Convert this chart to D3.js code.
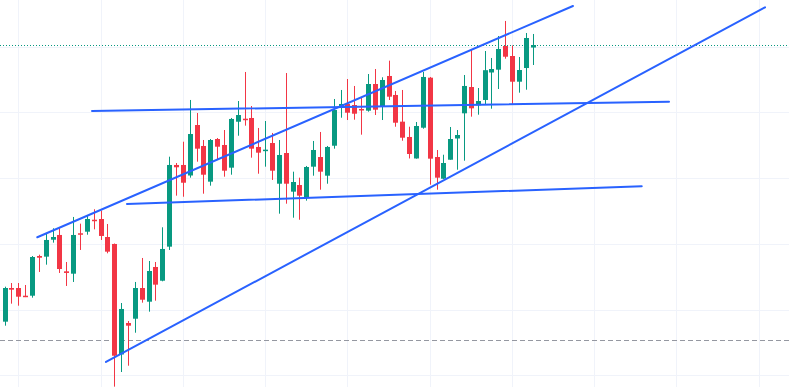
<!DOCTYPE html>
<html>
<head>
<meta charset="utf-8">
<script src="https://cdn.jsdelivr.net/npm/d3@7"></script>
<style>
  html, body { margin: 0; padding: 0; background: #fff; }
  svg { display: block; }
</style>
</head>
<body>
<script>
// candle values (one entry per bar)
const opens  = [108.16,113.28,113.28,112.11,112.11,118.15,118.05,120.63,121.35,115.82,
                115.46,121.61,121.85,123.67,123.78,121.04,119.98,103.17,107.96,108.61,
                113.28,111.20,116.48,114.39,119.57,132.00,132.00,130.40,138.08,134.89,
                129.46,135.95,135.04,131.59,138.58,139.04,139.15,134.74,134.17,135.34,
                129.15,133.82,127.94,128.95,127.02,131.74,133.21,130.37,134.93,140.87,
                141.28,141.12,140.52,140.26,144.32,140.87,145.54,142.65,138.59,136.26,
                132.99,137.67,145.28,133.21,129.91,132.80,136.03,139.86,143.86,141.08,
                141.89,146.07,146.50,150.10,148.58,144.67,146.75,149.87]
const highs  = [113.48,114.04,114.04,113.74,118.15,118.35,121.61,122.37,122.52,117.24,
                124.09,123.07,124.39,125.26,125.05,123.02,120.05,111.00,108.26,114.20,
                117.85,117.39,117.24,122.52,133.26,132.30,135.54,141.89,139.91,135.80,
                135.95,136.10,137.32,139.15,141.73,146.15,140.97,137.63,138.69,136.87,
                135.80,145.99,130.98,130.07,131.85,135.65,137.02,134.89,142.04,143.41,
                145.08,144.02,142.19,145.84,146.60,145.34,147.87,143.26,143.41,137.82,
                138.54,146.15,145.39,134.28,133.56,137.78,137.32,145.69,149.65,143.71,
                149.34,148.28,151.62,153.91,150.18,148.43,152.08,151.93]
const lows   = [107.55,110.90,110.59,111.90,111.81,115.72,116.83,120.18,115.57,113.59,
                114.20,119.07,121.39,122.21,120.59,118.56,98.27,100.50,101.46,106.48,
                111.05,109.68,111.35,114.30,119.07,127.33,127.17,130.07,132.50,127.63,
                128.85,132.80,130.22,130.52,136.45,137.98,133.11,130.67,131.74,129.72,
                124.59,126.11,123.98,123.67,126.57,130.37,128.24,129.15,134.48,139.19,
                138.84,138.89,136.61,140.11,139.60,138.84,141.89,137.82,135.69,132.99,
                132.96,137.52,129.00,128.24,129.85,132.80,131.28,132.65,139.35,139.65,
                141.17,140.56,143.56,148.17,141.28,143.00,143.45,147.21]
const closes = [113.28,113.03,111.96,111.96,118.00,117.89,120.59,121.04,116.17,115.57,
                121.35,121.45,123.78,123.52,121.20,118.81,102.98,110.09,107.55,113.28,
                111.50,115.87,113.79,119.22,132.00,131.65,129.30,136.71,134.48,130.52,
                135.80,134.78,131.13,139.00,139.60,138.89,134.48,133.87,134.33,131.13,
                133.52,129.15,129.41,127.33,131.69,134.28,130.98,134.74,140.36,141.28,
                139.95,139.80,140.41,144.32,140.41,144.93,142.39,138.43,136.15,133.67,
                137.93,145.39,132.96,130.07,132.30,135.95,136.56,144.02,140.62,141.73,
                146.42,146.60,149.65,148.47,144.67,146.45,151.32,150.25]

// grid
const gridPrices = [100, 110, 120, 130, 140, 150]
const gridBars = [2, 14, 26, 38, 50, 62, 74, 86, 98, 110]

// drawn trend lines: [bar, price] at both ends
const lineStarts = [[4.77, 121.00], [14.79, 102.03], [12.75, 140.21], [17.85, 126.06]]
const lineEnds   = [[82.90, 156.19], [110.91, 155.99], [96.91, 141.63], [92.93, 128.76]]

const lastPrice = 150.25
const refPrice = 105.33

const W = 789, H = 387
const colors = { up: '#089981', down: '#f23645', line: '#2962ff', grid: '#f0f3fa' }

const svg = d3.select('body').append('svg').attr('width', W).attr('height', H)

const x = d3.scaleLinear().domain([-0.671, 114.41]).range([0, W])
const y = d3.scaleLinear().domain([98.22, 157.10]).range([H, 0])

const crisp = v => Math.round(v) + 0.5

// grid lines
svg.append('g').selectAll('line').data(gridPrices).enter().append('line')
  .attr('x1', 0).attr('x2', W)
  .attr('y1', d => crisp(y(d))).attr('y2', d => crisp(y(d)))
  .attr('stroke', colors.grid).attr('stroke-width', 1)
svg.append('g').selectAll('line').data(gridBars).enter().append('line')
  .attr('y1', 0).attr('y2', H)
  .attr('x1', d => crisp(x(d))).attr('x2', d => crisp(x(d)))
  .attr('stroke', colors.grid).attr('stroke-width', 1)

// reference dashed line and last price dotted line
svg.append('line')
  .attr('x1', 0).attr('x2', W)
  .attr('y1', crisp(y(refPrice))).attr('y2', crisp(y(refPrice)))
  .attr('stroke', '#9598a1').attr('stroke-dasharray', '5,3')

const bars = d3.range(opens.length).map(i => ({
  i, o: opens[i], h: highs[i], l: lows[i], c: closes[i]
}))
const barW = 5

const candles = svg.append('g').selectAll('g').data(bars).enter().append('g')
  .attr('fill', d => d.c >= d.o ? colors.up : colors.down)
  .attr('stroke', d => d.c >= d.o ? colors.up : colors.down)

candles.append('line')
  .attr('x1', d => crisp(x(d.i))).attr('x2', d => crisp(x(d.i)))
  .attr('y1', d => y(d.h)).attr('y2', d => y(d.l))
  .attr('stroke-width', 1)

candles.append('rect')
  .attr('stroke', 'none')
  .attr('x', d => Math.round(x(d.i)) - 2)
  .attr('width', barW)
  .attr('y', d => y(Math.max(d.o, d.c)))
  .attr('height', d => Math.max(1.5, Math.abs(y(d.o) - y(d.c))))

svg.append('line')
  .attr('x1', 0).attr('x2', W)
  .attr('y1', crisp(y(lastPrice))).attr('y2', crisp(y(lastPrice)))
  .attr('stroke', colors.up).attr('stroke-dasharray', '1,2')

// trend lines
svg.append('g').selectAll('line').data(lineStarts).enter().append('line')
  .attr('x1', d => x(d[0])).attr('y1', d => y(d[1]))
  .attr('x2', (d, k) => x(lineEnds[k][0])).attr('y2', (d, k) => y(lineEnds[k][1]))
  .attr('stroke', colors.line).attr('stroke-width', 2).attr('stroke-linecap', 'round')
</script>
</body>
</html>
